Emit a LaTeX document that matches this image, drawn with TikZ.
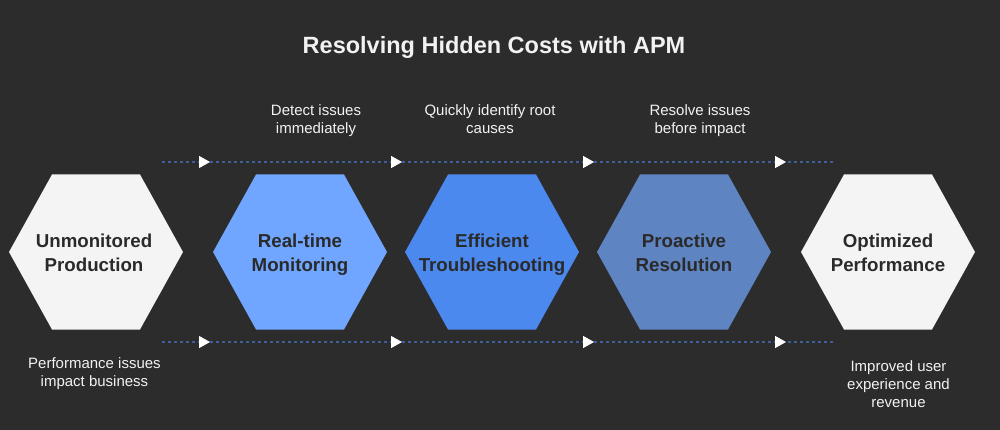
\documentclass[tikz,border=0pt]{standalone}
\usepackage{fontspec}
\setmainfont{Liberation Sans}
\usetikzlibrary{arrows.meta}
\definecolor{bgc}{HTML}{2C2C2C}
\definecolor{inkc}{HTML}{2A2A2A}
\definecolor{paper}{HTML}{F4F4F4}
\definecolor{hexa}{HTML}{70A6FF}
\definecolor{hexb}{HTML}{4C89EE}
\definecolor{hexc}{HTML}{5E84C2}
\definecolor{linkc}{HTML}{3F5F99}
\definecolor{notec}{HTML}{F2F2F2}
\tikzset{
  x=1pt,y=-1pt,
  hexname/.style={text=inkc,align=center,font=\fontsize{18.7}{24}\selectfont\bfseries,inner sep=0pt},
  notetext/.style={text=notec,align=center,font=\fontsize{15}{18}\selectfont,inner sep=0pt},
  titletext/.style={text=notec,font=\fontsize{23.5}{28}\selectfont\bfseries,inner sep=0pt},
  link/.style={draw=linkc,line width=1.3pt,dash pattern=on 2.7pt off 3.3pt},
  linkhead/.style={link,-{Triangle[length=11pt,width=12pt,color=white,fill=white,sep=0pt]}},
}
\newcommand{\hexshape}[3]{%
  \fill[#2] (#1-87,252) -- (#1-44,174.5) -- (#1+44,174.5) -- (#1+87,252) -- (#1+44,329.5) -- (#1-44,329.5) -- cycle;
  \coordinate (#3) at (#1,254.7);}
\begin{document}
\begin{tikzpicture}
\useasboundingbox (0,0) rectangle (1000,430);
\fill[bgc] (0,0) rectangle (1000,430);
\node[titletext] (title) at (494,47.5) {Resolving Hidden Costs with APM};
\hexshape{96}{paper}{h1}
\hexshape{300}{hexa}{h2}
\hexshape{492}{hexb}{h3}
\hexshape{684}{hexc}{h4}
\hexshape{888}{paper}{h5}
\node[hexname,xshift=-2pt] (l1) at (h1) {\strut Unmonitored\\\strut Production};
\node[hexname] (l2) at (h2) {\strut Real-time\\\strut Monitoring};
\node[hexname] (l3) at (h3) {\strut Efficient\\\strut Troubleshooting};
\node[hexname] (l4) at (h4) {\strut Proactive\\\strut Resolution};
\node[hexname] (l5) at (h5) {\strut Optimized\\\strut Performance};
\node[notetext] (n2) at (316,121.4) {\strut Detect issues\\\strut immediately};
\node[notetext] (n3) at (490,121.4) {\strut Quickly identify root\\\strut causes};
\node[notetext] (n4) at (700,121.4) {\strut Resolve issues\\\strut before impact};
\node[notetext] (n1) at (94.5,373.4) {\strut Performance issues\\\strut impact business};
\node[notetext] (n5) at (898.5,385.4) {\strut Improved user\\\strut experience and\\\strut revenue};
\foreach \r/\y in {t/162,b/342}{
  \coordinate (\r0) at (162,\y);
  \coordinate (\r1) at (210,\y);
  \coordinate (\r2) at (402,\y);
  \coordinate (\r3) at (594,\y);
  \coordinate (\r4) at (786,\y);
  \coordinate (\r5) at (834,\y);
  \draw[linkhead] (\r0) -- (\r1);
  \draw[linkhead] (\r1) -- (\r2);
  \draw[linkhead] (\r2) -- (\r3);
  \draw[linkhead] (\r3) -- (\r4);
  \draw[link,dash phase=4pt] (\r4) -- (\r5);
}
\end{tikzpicture}
\end{document}
